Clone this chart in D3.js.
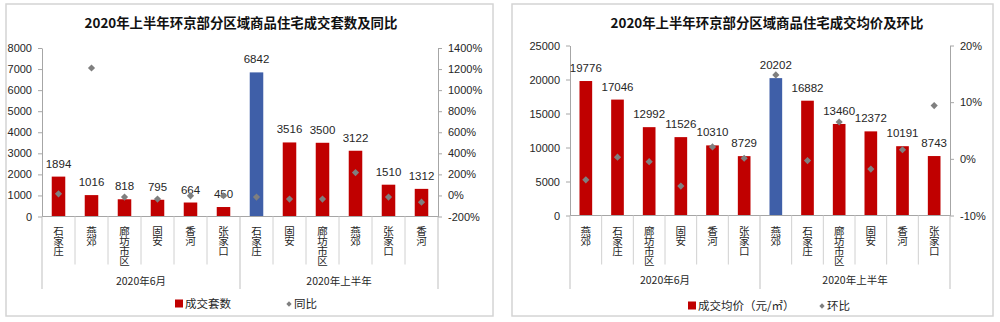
<!DOCTYPE html>
<html><head><meta charset="utf-8">
<script src="https://cdn.jsdelivr.net/npm/d3@7"></script>
<style>
html,body{margin:0;padding:0;background:#fff;}
svg{display:block;font-family:"Liberation Sans","Noto Sans CJK SC",sans-serif;}
.vcat{writing-mode:vertical-rl;text-orientation:upright;}
</style></head>
<body><svg id="c" width="1000" height="322"></svg>
<script>
// ---------- data ----------
const groupLabels = ["2020年6月", "2020年上半年"];

const leftTitle = "2020年上半年环京部分区域商品住宅成交套数及同比";
const leftCategories = ["石家庄","燕郊","廊坊市区","固安","香河","张家口","石家庄","固安","廊坊市区","燕郊","张家口","香河"];
const leftCounts = [1894,1016,818,795,664,450,6842,3516,3500,3122,1510,1312];
const leftYoY = [15,1210,-16,-35,-4,-3,-16,-35,-35,217,-16,-64];
const leftTicks = [0,1000,2000,3000,4000,5000,6000,7000,8000];
const leftPctTicks = [-200,0,200,400,600,800,1000,1200,1400];
const leftLegend = ["成交套数","同比"];

const rightTitle = "2020年上半年环京部分区域商品住宅成交均价及环比";
const rightCategories = ["燕郊","石家庄","廊坊市区","固安","香河","张家口","燕郊","石家庄","廊坊市区","固安","香河","张家口"];
const rightPrices = [19776,17046,12992,11526,10310,8729,20202,16882,13460,12372,10191,8743];
const rightMoM = [-3.7,0.3,-0.5,-4.8,2.1,0.1,14.8,-0.3,6.5,-1.8,1.6,9.4];
const rightTicks = [0,5000,10000,15000,20000,25000];
const rightPctTicks = [-10,0,10,20];
const rightLegend = ["成交均价（元/㎡）","环比"];

const highlightIndex = 6;

// ---------- drawing ----------
const RED = "#C00000", BLUE = "#3F5FA8", GRAY = "#7F7F7F", TXT = "#262626", AX = "#A6A6A6";
const svg = d3.select("#c");

function drawPanel(cfg) {
  const g = svg.append("g");
  g.append("rect").attr("x", cfg.px0).attr("y", 4).attr("width", cfg.px1 - cfg.px0).attr("height", 312)
    .attr("fill", "#fff").attr("stroke", "#D4D4D4").attr("stroke-width", 1.5);

  g.append("text").attr("x", (cfg.x0 + cfg.x1) / 2 + cfg.titleDx).attr("y", 28)
    .attr("text-anchor", "middle").attr("font-size", 13.4).attr("font-weight", "bold")
    .attr("font-family", "'Noto Sans CJK SC',sans-serif").attr("fill", "#111").text(cfg.title);

  const n = cfg.cats.length;
  const slot = d3.scaleBand().domain(d3.range(n)).range([cfg.x0, cfg.x1]).padding(0);
  const xb = d3.scaleBand().domain(d3.range(n)).range([cfg.x0, cfg.x1])
    .paddingInner(cfg.pad).paddingOuter(cfg.pad / 2);
  const y = d3.scaleLinear().domain([0, d3.max(cfg.ticks)]).range([cfg.yBase, cfg.yTop]);
  const y2 = d3.scaleLinear().domain(d3.extent(cfg.pctTicks)).range([cfg.yBase, cfg.yTop]);

  // left axis
  const la = g.append("g").attr("transform", `translate(${cfg.x0},0)`)
    .call(d3.axisLeft(y).tickValues(cfg.ticks).tickSize(4).tickSizeOuter(0).tickPadding(6).tickFormat(d3.format("d")));
  la.selectAll("path,line").attr("stroke", AX);
  la.selectAll("text").attr("font-size", 11).attr("fill", TXT).attr("font-family", "'Liberation Sans',sans-serif");

  // right axis
  const ra = g.append("g").attr("transform", `translate(${cfg.x1},0)`)
    .call(d3.axisRight(y2).tickValues(cfg.pctTicks).tickSize(4).tickSizeOuter(0).tickPadding(6).tickFormat(d => d + "%"));
  ra.selectAll("path,line").attr("stroke", AX);
  ra.selectAll("text").attr("font-size", 11).attr("fill", TXT).attr("font-family", "'Liberation Sans',sans-serif");

  // bars
  g.selectAll(".bar").data(cfg.values).join("rect")
    .attr("x", (d, i) => xb(i)).attr("width", xb.bandwidth())
    .attr("y", d => y(d)).attr("height", d => y(0) - y(d))
    .attr("fill", (d, i) => i === highlightIndex ? BLUE : RED);

  // value labels
  g.selectAll(".vl").data(cfg.values).join("text")
    .attr("x", (d, i) => slot(i) + slot.bandwidth() / 2).attr("y", d => y(d) - 9)
    .attr("text-anchor", "middle").attr("font-size", 11.5).attr("fill", TXT)
    .attr("font-family", "'Liberation Sans',sans-serif").text(d => d);

  // diamonds
  g.selectAll(".dm").data(cfg.pcts).join("path")
    .attr("d", d3.symbol(d3.symbolSquare, 26))
    .attr("transform", (d, i) => `translate(${slot(i) + slot.bandwidth() / 2},${y2(d)}) rotate(45)`)
    .attr("fill", GRAY);

  // category axis
  g.append("line").attr("x1", cfg.x0).attr("x2", cfg.x1).attr("y1", y(0)).attr("y2", y(0)).attr("stroke", AX);
  d3.range(n + 1).forEach(k => {
    const xx = k < n ? slot(k) : cfg.x1;
    const isGroup = k % 6 === 0;
    g.append("line").attr("x1", xx).attr("x2", xx).attr("y1", y(0)).attr("y2", isGroup ? 289 : 264.5)
      .attr("stroke", isGroup ? "#BFBFBF" : "#D0D0D0");
  });
  cfg.cats.forEach((c, i) => {
    g.append("text").attr("class", "vcat")
      .attr("x", slot(i) + slot.bandwidth() / 2).attr("y", 226)
      .attr("font-size", 10.5).attr("letter-spacing", -0.5).attr("fill", TXT)
      .attr("font-family", "'Noto Sans CJK SC',sans-serif").text(c);
  });
  groupLabels.forEach((gl, k) => {
    g.append("text").attr("x", slot(k * 6) + slot.step() * 3).attr("y", cfg.groupY)
      .attr("text-anchor", "middle").attr("font-size", 10.5).attr("fill", TXT)
      .attr("font-family", "'Noto Sans CJK SC',sans-serif").text(gl);
  });

  // legend
  const lg = g.append("g");
  lg.append("rect").attr("x", cfg.leg1).attr("y", cfg.legY - 4.5).attr("width", 8).attr("height", 8).attr("fill", RED);
  lg.append("text").attr("x", cfg.leg1 + 10).attr("y", cfg.legY + 4).attr("font-size", 11.5).attr("fill", TXT)
    .attr("font-family", "'Noto Sans CJK SC',sans-serif").text(cfg.legend[0]);
  lg.append("path").attr("d", d3.symbol(d3.symbolSquare, 14))
    .attr("transform", `translate(${cfg.leg2},${cfg.legY}) rotate(45)`).attr("fill", GRAY);
  lg.append("text").attr("x", cfg.leg2 + 5).attr("y", cfg.legY + 4).attr("font-size", 11.5).attr("fill", TXT)
    .attr("font-family", "'Noto Sans CJK SC',sans-serif").text(cfg.legend[1]);
}

drawPanel({
  px0: 6, px1: 493, x0: 42, x1: 438, yBase: 216.5, yTop: 48, pad: 0.59, titleDx: 1,
  title: leftTitle, cats: leftCategories, values: leftCounts, pcts: leftYoY,
  ticks: leftTicks, pctTicks: leftPctTicks, legend: leftLegend,
  groupY: 285, legY: 304, leg1: 175, leg2: 289
});
drawPanel({
  px0: 512, px1: 993, x0: 570, x1: 950, yBase: 215.5, yTop: 45.5, pad: 0.6, titleDx: 7,
  title: rightTitle, cats: rightCategories, values: rightPrices, pcts: rightMoM,
  ticks: rightTicks, pctTicks: rightPctTicks, legend: rightLegend,
  groupY: 284, legY: 306, leg1: 688, leg2: 822
});
</script></body></html>
